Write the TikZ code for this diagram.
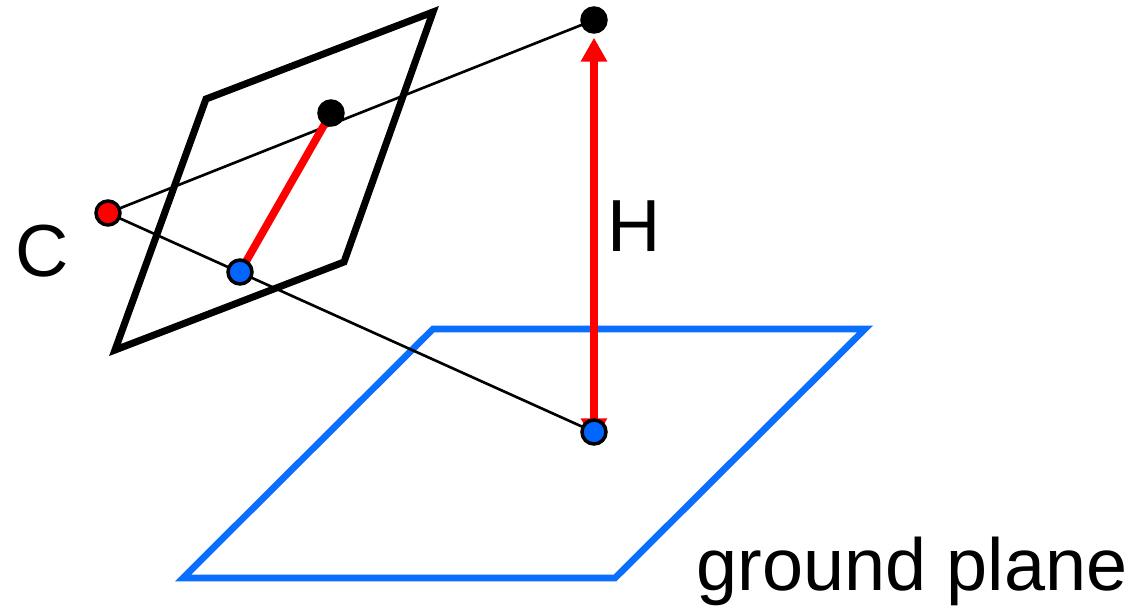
\documentclass[tikz,border=0pt]{standalone}
\usepackage{fontspec}
\setmainfont{Liberation Sans}
\usetikzlibrary{arrows.meta, backgrounds}
\definecolor{dotblue}{RGB}{0,102,255}
\definecolor{planeblue}{RGB}{10,110,255}
\tikzset{
  dot/.style = {circle, draw=black, line width=1pt, minimum size=2.4mm, inner sep=0pt},
  ray/.style = {draw=black, line width=0.75pt},
  imgplane/.style = {draw=black, line width=2pt},
  gndplane/.style = {draw=planeblue, line width=1.9pt},
  redline/.style = {draw=red, line width=2.2pt},
  arr/.style = {{Triangle[length=2.4mm,width=2.5mm]}-{Triangle[length=2.4mm,width=2.5mm]}, draw=red, line width=2.2pt},
  lbl/.style = {font=\fontsize{21}{25}\selectfont, inner sep=0pt, anchor=base}
}

\begin{document}
\begin{tikzpicture}[x=0.1mm, y=-0.1mm]
\useasboundingbox (0,0) rectangle (1138,608);

% Corners of the two planes
\coordinate (ip1) at (206,99);
\coordinate (ip2) at (433,12);
\coordinate (ip3) at (344,262);
\coordinate (ip4) at (115,350);
\coordinate (gp1) at (433,329);
\coordinate (gp2) at (865,329);
\coordinate (gp3) at (615,578);
\coordinate (gp4) at (183,578);

% Points
\node[dot, fill=red] (cam) at (108,213) {};
\node[dot, fill=black] (top) at (594,20) {};
\node[dot, fill=black] (imtop) at (331,113) {};
\node[dot, fill=dotblue] (imbot) at (240,272) {};
\node[dot, fill=dotblue] (foot) at (594,432) {};

% Labels
\node[lbl] (clbl) at (42,276) {C};
\node[lbl] (hlbl) at (634,251) {H};
\node[lbl] (glbl) at (912,590) {ground plane};

\begin{scope}[on background layer]
% ----- PLANES -----
\draw[gndplane] (gp1) -- (gp2) -- (gp3) -- (gp4) -- cycle;
\draw[imgplane] (ip1) -- (ip2) -- (ip3) -- (ip4) -- cycle;
% ----- RAYS -----
\draw[ray] (cam.center) -- (top.center);
\draw[ray] (cam.center) -- (foot.center);
% Image of the height
\draw[redline] (imtop.center) -- (imbot.center);
% Height
\draw[arr, shorten <=1pt, shorten >=1.1pt] (foot.south) -- (top.south);
\end{scope}

\end{tikzpicture}
\end{document}
